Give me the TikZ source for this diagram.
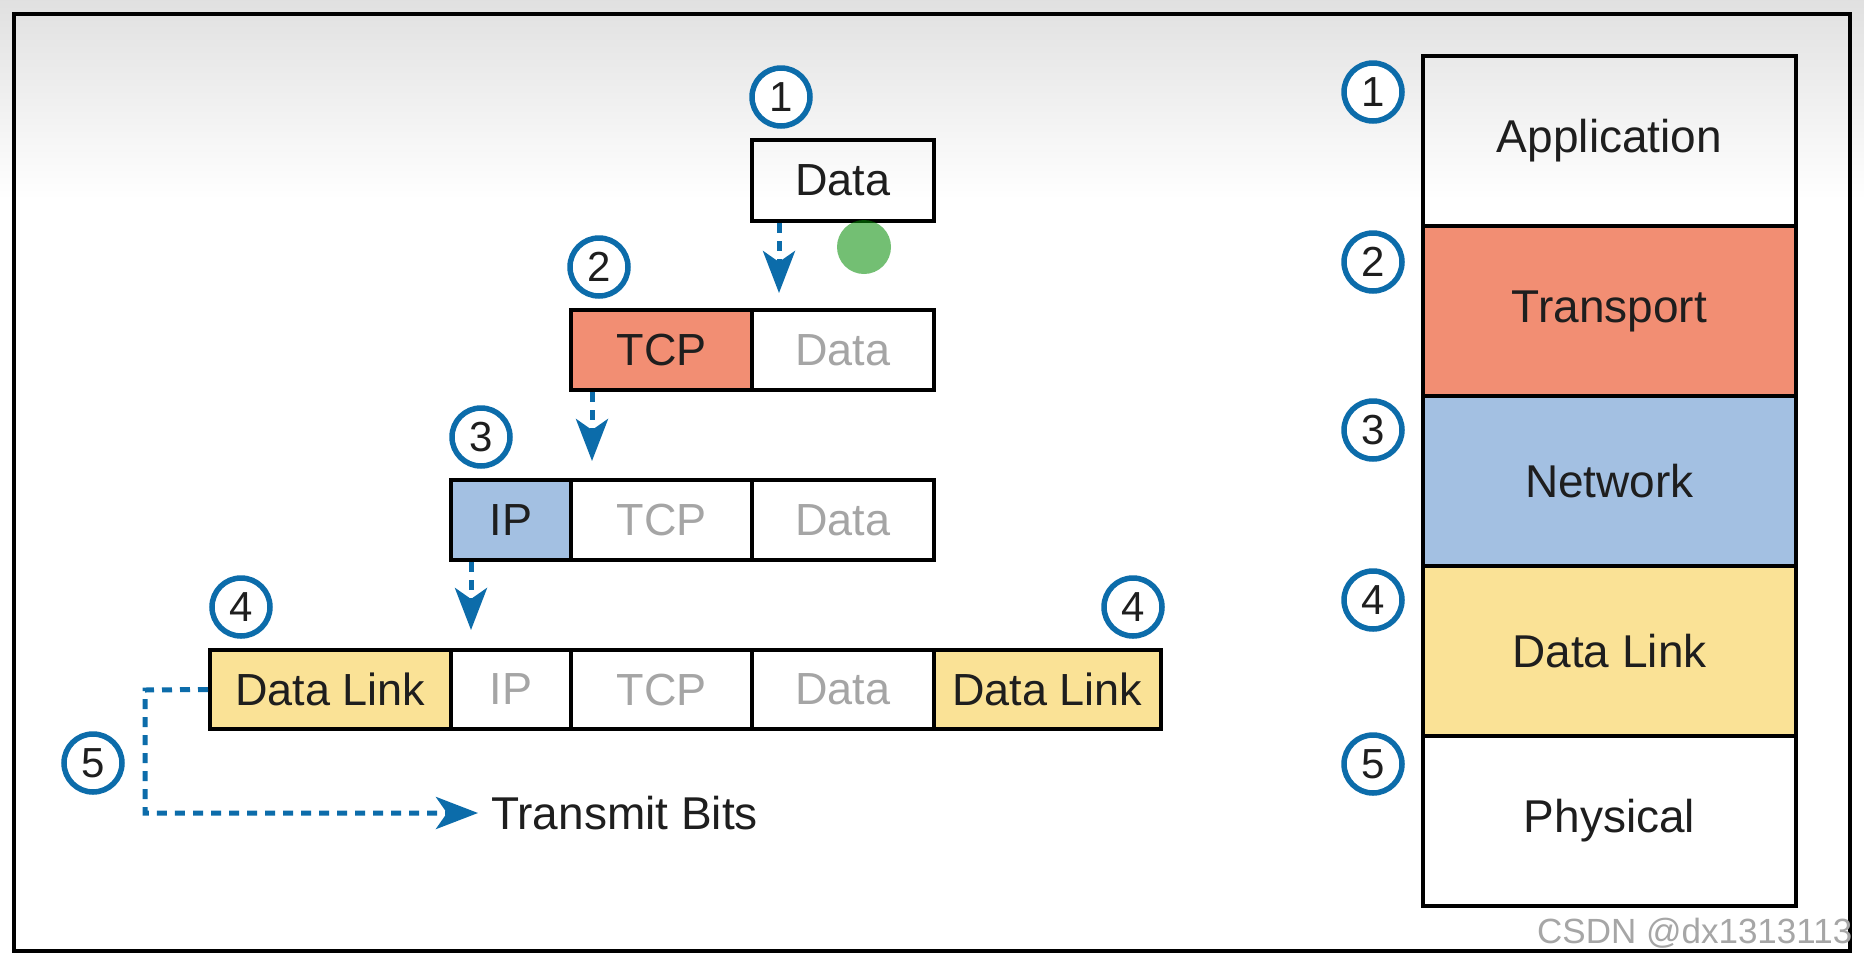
\documentclass[tikz,border=0pt]{standalone}
\usepackage{fontspec}
\setmainfont{Liberation Sans}
\usetikzlibrary{arrows.meta,calc}
\definecolor{ciscoblue}{RGB}{12,108,170}
\definecolor{tcpred}{RGB}{242,142,115}
\definecolor{ipblue}{RGB}{163,192,226}
\definecolor{dlyellow}{RGB}{250,226,150}
\definecolor{lighttext}{RGB}{165,165,165}
\definecolor{darktext}{RGB}{30,30,30}
\tikzset{
  cell/.style={draw=black, line width=4pt, rectangle, inner sep=0pt, font=\fontsize{45}{50}\selectfont, text=darktext},
  faint/.style={text=lighttext},
  num/.style={circle, draw=ciscoblue, line width=5.5pt, fill=white, minimum size=58pt, inner sep=0pt, font=\fontsize{42}{44}\selectfont, text=darktext},
  flow/.style={draw=ciscoblue, line width=5pt, dash pattern=on 10pt off 8pt, -{Stealth[width=32pt,length=42pt,inset=11pt]}},
  layer/.style={draw=black, line width=4pt, rectangle, inner sep=0pt, minimum width=373pt, minimum height=170pt, font=\fontsize{46}{50}\selectfont, text=darktext},
}
\begin{document}
\begin{tikzpicture}[x=1pt,y=-1pt]
\useasboundingbox (0,0) rectangle (1864,967);
\fill[white] (0,0) rectangle (1864,967);
\shade[top color=black!12, bottom color=white] (0,0) rectangle (1864,200);
\draw[line width=4pt, black] (14,14) rectangle (1850,951);

% row 1
\node[cell, minimum width=182pt, minimum height=81pt] (d1) at (843,180.5) {Data};
% row 2
\node[cell, fill=tcpred, minimum width=181pt, minimum height=80pt] (tcp2) at (661.5,350) {TCP};
\node[cell, faint, minimum width=182pt, minimum height=80pt] (d2) at (843,350) {Data};
% row 3
\node[cell, fill=ipblue, minimum width=120pt, minimum height=80pt] (ip3) at (511,520) {IP};
\node[cell, faint, minimum width=181pt, minimum height=80pt] (tcp3) at (661.5,520) {TCP};
\node[cell, faint, minimum width=182pt, minimum height=80pt] (d3) at (843,520) {Data};
% row 4
\node[cell, fill=dlyellow, minimum width=241pt, minimum height=79pt] (dl4) at (330.5,689.5) {Data Link};
\node[cell, faint, minimum width=120pt, minimum height=79pt] (ip4) at (511,689.5) {IP};
\node[cell, faint, minimum width=181pt, minimum height=79pt] (tcp4) at (661.5,689.5) {TCP};
\node[cell, faint, minimum width=182pt, minimum height=79pt] (d4) at (843,689.5) {Data};
\node[cell, fill=dlyellow, minimum width=227pt, minimum height=79pt] (dlt4) at (1047.5,689.5) {Data Link};

% numbers left
\node[num] (n1) at (781,97) {1};
\node[num] (n2) at (599,267) {2};
\node[num] (n3) at (481,437) {3};
\node[num] (n4a) at (241,607) {4};
\node[num] (n4b) at (1133,607) {4};
\node[num] (n5) at (93,763) {5};

% arrows
\coordinate (t1) at (779,293);
\coordinate (t2) at (592,461);
\coordinate (t3) at (471,630);
\draw[flow] (d1.south -| t1) -- (t1);
\draw[flow] (tcp2.south -| t2) -- (t2);
\draw[flow] (ip3.south -| t3) -- (t3);

\node[anchor=west, font=\fontsize{46}{50}\selectfont, text=darktext, inner sep=0pt] (tb) at (491,813) {Transmit Bits};
\coordinate (tbtip) at (478,813);
\draw[flow] (dl4.west) -- (145,690) |- (tbtip);

% cursor highlight
\fill[green!55!black, opacity=0.55] (864,247) circle (27pt);

% right stack
\node[layer] (app) at (1609.5,141) {Application};
\node[layer, fill=tcpred] (tra) at (1609.5,311) {Transport};
\node[layer, fill=ipblue] (net) at (1609.5,481) {Network};
\node[layer, fill=dlyellow] (dll) at (1609.5,651) {Data Link};
\node[layer] (phy) at (1609.5,821) {Physical};

\node[num] (r1) at (1373,92) {1};
\node[num] (r2) at (1373,262) {2};
\node[num] (r3) at (1373,430) {3};
\node[num] (r4) at (1373,600) {4};
\node[num] (r5) at (1373,764) {5};

\node[anchor=west, font=\fontsize{35}{38}\selectfont, text=black!35, inner sep=0pt] (wm) at (1537,933) {CSDN @dx1313113};
\end{tikzpicture}
\end{document}
